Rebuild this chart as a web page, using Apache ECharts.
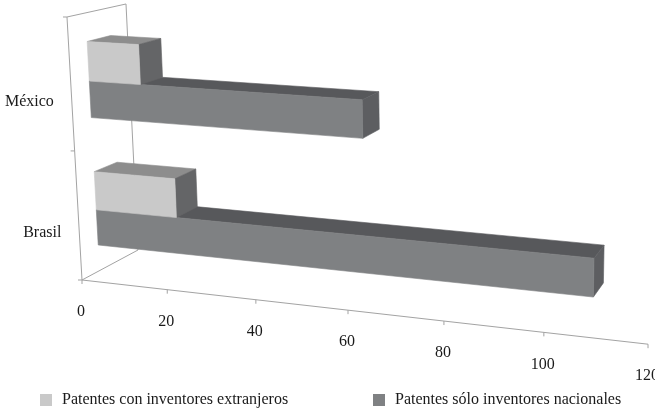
<!DOCTYPE html>
<html><head><meta charset="utf-8">
<script src="https://cdn.jsdelivr.net/npm/echarts@6/dist/echarts.min.js"></script>
<style>html,body{margin:0;padding:0;background:#fff}#chart{width:655px;height:411px}</style>
</head><body><div id="chart"></div>
<script>
// ---- data ----
const categories = ['Brasil', 'México'];
const foreignInventors = [19, 12];
const nationalOnly = [108, 61];
const valueTicks = [0, 20, 40, 60, 80, 100, 120];
const seriesNames = ['Patentes con inventores extranjeros', 'Patentes sólo inventores nacionales'];

// ---- layout / camera ----
const VMAX = 120;
const PW = 120, PH = 100;       // hidden computational plane (grid) size
const FONT = 'Liberation Serif';
const TEXT = '#1a1a1a';
// projective camera: normalized (X value, Y height, Z depth) -> screen
const P = [
  [492.6, -17.44, 65.8, 82],
  [25.2, -263.62, -12.25, 280],
  [-0.1133, -0.0364, 0.071, 1]
];
function proj(X, Y, Z) {
  const u = P[0][0]*X + P[0][1]*Y + P[0][2]*Z + P[0][3];
  const v = P[1][0]*X + P[1][1]*Y + P[1][2]*Z + P[1][3];
  const w = P[2][0]*X + P[2][1]*Y + P[2][2]*Z + P[2][3];
  return [u / w, v / w];
}
const Z0 = 0.3, Z1 = 0.7;

function face(pts, color) {
  return { type: 'polygon', shape: { points: pts },
    style: { fill: color, stroke: color, lineWidth: 0.6 } };
}

function boxRender(upper, colors) {
  return function (params, api) {
    const cat = api.value(0), val = api.value(1);
    const a = api.coord([0, cat]);
    const b = api.coord([val, cat]);
    const band = api.size([0, 1])[1] / PH;
    const X0 = a[0] / PW, X1 = b[0] / PW;
    const Yc = 1 - b[1] / PH;
    const split = Yc - band * 0.015;
    const y0 = upper ? split : split - band * 0.28;
    const y1 = upper ? split + band * 0.3 : split;
    const front = [proj(X0, y0, Z0), proj(X1, y0, Z0), proj(X1, y1, Z0), proj(X0, y1, Z0)];
    const top = [proj(X0, y1, Z0), proj(X1, y1, Z0), proj(X1, y1, Z1), proj(X0, y1, Z1)];
    const side = [proj(X1, y0, Z0), proj(X1, y0, Z1), proj(X1, y1, Z1), proj(X1, y1, Z0)];
    return { type: 'group', children: [face(top, colors[1]), face(side, colors[2]), face(front, colors[0])] };
  };
}

function line(p, q, color) {
  return { type: 'line', shape: { x1: p[0], y1: p[1], x2: q[0], y2: q[1] },
    style: { stroke: color || '#a3a3a3', lineWidth: 1 } };
}

function frameRender(params, api) {
  const c = '#a3a3a3';
  const kids = [
    line(proj(0, 0, 0), proj(0, 1, 0), c),
    line(proj(0, 1, 0), proj(0, 1, 1), c),
    line(proj(0, 1, 1), proj(0, 0, 1), c),
    line(proj(0, 0, 1), proj(0, 0, 0), c),
    line(proj(0, 0, 0), proj(1, 0, 0), c)
  ];
  [0, 0.5, 1].forEach(function (y) {
    const p = proj(0, y, 0);
    kids.push(line([p[0] - 4, p[1]], p, c));
  });
  return { type: 'group', children: kids };
}

function tickRender(params, api) {
  const pt = api.coord([api.value(0), 0]);
  const p = proj(pt[0] / PW, 0, 0);
  return { type: 'group', children: [
    line(p, [p[0], p[1] + 4], '#a3a3a3'),
    { type: 'text', x: p[0] - 1, y: p[1] + 32,
      style: { text: String(api.value(0)), fill: TEXT, font: '16px "' + FONT + '"',
        textAlign: 'center', textVerticalAlign: 'middle' } }
  ] };
}

function catRender(params, api) {
  const cat = api.value(0);
  const b = api.coord([0, cat]);
  const p = proj(0, 1 - b[1] / PH, 0);
  return { type: 'text', x: p[0] - 17, y: p[1] + 17,
    style: { text: categories[cat], fill: TEXT, font: '16px "' + FONT + '"',
      textAlign: 'right', textVerticalAlign: 'middle' } };
}

const LIGHT = ['#c9c9c9', '#8d8d8d', '#646567'];
const DARK = ['#7f8183', '#57585b', '#5d5e61'];

const chart = echarts.init(document.getElementById('chart'), null, { renderer: 'canvas' });
chart.setOption({
  animation: false,
  backgroundColor: '#ffffff',
  grid: { left: 0, top: 0, width: PW, height: PH, show: false },
  xAxis: { type: 'value', min: 0, max: VMAX, interval: 20, show: false },
  yAxis: { type: 'category', data: categories, show: false },
  legend: [
    { data: [seriesNames[0]], left: 35, top: 387, icon: 'rect', itemWidth: 12, itemHeight: 12,
      selectedMode: false, textStyle: { fontFamily: FONT, fontSize: 16, color: TEXT, padding: [0, 0, 0, 5] } },
    { data: [seriesNames[1]], left: 368, top: 387, icon: 'rect', itemWidth: 12, itemHeight: 12,
      selectedMode: false, textStyle: { fontFamily: FONT, fontSize: 16, color: TEXT, padding: [0, 0, 0, 5] } }
  ],
  series: [
    { type: 'custom', name: 'frame', z: 1, silent: true, renderItem: frameRender,
      data: [[0, 0]], encode: { x: 0, y: 1 } },
    { type: 'custom', name: seriesNames[1], z: 2, renderItem: boxRender(false, DARK),
      itemStyle: { color: DARK[0] },
      data: nationalOnly.map(function (v, i) { return [i, v]; }), encode: { x: 1, y: 0 } },
    { type: 'custom', name: seriesNames[0], z: 3, renderItem: boxRender(true, LIGHT),
      itemStyle: { color: LIGHT[0] },
      data: foreignInventors.map(function (v, i) { return [i, v]; }), encode: { x: 1, y: 0 } },
    { type: 'custom', name: 'ticks', z: 4, silent: true, renderItem: tickRender,
      data: valueTicks.map(function (v) { return [v, 0]; }), encode: { x: 0, y: 1 } },
    { type: 'custom', name: 'cats', z: 4, silent: true, renderItem: catRender,
      data: categories.map(function (c, i) { return [i, 0]; }), encode: { y: 0, x: 1 } }
  ]
});
</script></body></html>
